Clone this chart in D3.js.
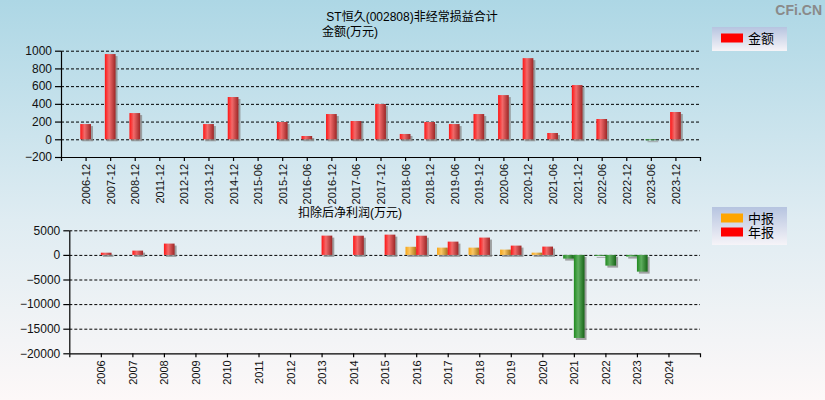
<!DOCTYPE html>
<html lang="zh">
<head>
<meta charset="utf-8">
<title>ST恒久(002808)非经常损益合计</title>
<script src="https://cdnjs.cloudflare.com/ajax/libs/d3/7.8.5/d3.min.js"></script>
<style>
  body { margin: 0; padding: 0; }
  svg { display: block; font-family: "Liberation Sans", "Noto Sans CJK SC", sans-serif; }
</style>
</head>
<body>
<div id="chart"></div>
<script>
// top chart: 非经常损益合计 (万元)
var periods = ["2006-12","2007-12","2008-12","2011-12","2012-12","2013-12","2014-12","2015-06",
               "2015-12","2016-06","2016-12","2017-06","2017-12","2018-06","2018-12","2019-06",
               "2019-12","2020-06","2020-12","2021-06","2021-12","2022-06","2022-12","2023-06","2023-12"];
var amounts = [172, 962, 296, 0, 0, 172, 477, 0,
               195, 37, 285, 206, 398, 60, 195, 172,
               285, 499, 916, 71, 612, 229, 0, -10, 308];
var topTicks = [-200, 0, 200, 400, 600, 800, 1000];

// bottom chart: 扣除后净利润 (万元)
var years = ["2006","2007","2008","2009","2010","2011","2012","2013","2014","2015",
             "2016","2017","2018","2019","2020","2021","2022","2023","2024"];
var midReport = [null, null, null, null, null, null, null, null, null, null,
                 1650, 1480, 1480, 1080, 460, -750, -180, -340, null];
var annualReport = [450, 870, 2300, null, null, null, null, 3920, 3900, 4120,
                    3900, 2700, 3520, 1890, 1690, -16880, -2180, -3400, null];
var bottomTicks = [-20000, -15000, -10000, -5000, 0, 5000];

var W = 825, H = 400;
var svg = d3.select("#chart").append("svg").attr("width", W).attr("height", H);
var defs = svg.append("defs");

var bg = defs.append("linearGradient").attr("id", "bg").attr("x1", 0).attr("y1", 0).attr("x2", 0).attr("y2", 1);
bg.append("stop").attr("offset", "0%").attr("stop-color", "#add7e5");
bg.append("stop").attr("offset", "55%").attr("stop-color", "#dfecf2");
bg.append("stop").attr("offset", "100%").attr("stop-color", "#fdf8f8");
svg.append("rect").attr("width", W).attr("height", H).attr("fill", "url(#bg)");

function barGrad(id, c0, c1, c2) {
  var g = defs.append("linearGradient").attr("id", id).attr("x1", 0).attr("y1", 0).attr("x2", 1).attr("y2", 0);
  g.append("stop").attr("offset", "0%").attr("stop-color", c0);
  g.append("stop").attr("offset", "40%").attr("stop-color", c1);
  g.append("stop").attr("offset", "100%").attr("stop-color", c2);
}
barGrad("red", "#ff1414", "#f26a6a", "#9c2626");
barGrad("orange", "#f7a516", "#fac766", "#a87418");
barGrad("green", "#1f8a1f", "#5fae5f", "#176417");

var legBg = defs.append("linearGradient").attr("id", "legbg").attr("x1", 0).attr("y1", 0).attr("x2", 0).attr("y2", 1);
legBg.append("stop").attr("offset", "0%").attr("stop-color", "#b6c4e0");
legBg.append("stop").attr("offset", "100%").attr("stop-color", "#f6f4f8");

// watermark + titles
svg.append("text").attr("x", 822).attr("y", 15).attr("text-anchor", "end")
  .attr("font-size", 14).attr("font-weight", "bold").attr("fill", "#8a8a8a").text("CFi.CN");
svg.append("text").attr("x", 412).attr("y", 21).attr("text-anchor", "middle")
  .attr("font-size", 12).attr("fill", "#000").text("ST恒久(002808)非经常损益合计");
svg.append("text").attr("x", 322).attr("y", 36)
  .attr("font-size", 12).attr("fill", "#000").text("金额(万元)");
svg.append("text").attr("x", 298).attr("y", 217)
  .attr("font-size", 12).attr("fill", "#000").text("扣除后净利润(万元)");

function drawPanel(opt) {
  var x = d3.scaleLinear().domain([-1, opt.labels.length]).range([opt.x0, opt.x1]);
  var y = d3.scaleLinear().domain(opt.yDomain).range([opt.yBottom, opt.yTop]);
  var g = svg.append("g");

  // dashed gridlines
  g.selectAll("line.grid").data(opt.ticks.filter(function(t){ return t > opt.yDomain[0]; }))
    .enter().append("line")
    .attr("x1", opt.x0).attr("x2", opt.x1)
    .attr("y1", function(d){ return y(d) + 0.5; }).attr("y2", function(d){ return y(d) + 0.5; })
    .attr("stroke", "#000").attr("stroke-dasharray", "3,2");

  // bars
  opt.series.forEach(function(s) {
    var data = s.values.map(function(v, i){ return {i: i, v: v}; })
      .filter(function(d){ return d.v !== null && d.v !== 0; });
    var bars = g.append("g");
    bars.selectAll("rect.shadow").data(data).enter().append("rect")
      .attr("x", function(d){ return x(d.i) + s.offset + 2; })
      .attr("y", function(d){ return Math.min(y(d.v), y(0)) + 2; })
      .attr("width", opt.barW)
      .attr("height", function(d){ return Math.abs(y(d.v) - y(0)); })
      .attr("fill", "#8c8c8c").attr("opacity", 0.8);
    bars.selectAll("rect.bar").data(data).enter().append("rect")
      .attr("x", function(d){ return x(d.i) + s.offset; })
      .attr("y", function(d){ return Math.min(y(d.v), y(0)); })
      .attr("width", opt.barW)
      .attr("height", function(d){ return Math.max(1, Math.abs(y(d.v) - y(0))); })
      .attr("fill", function(d){ return d.v < 0 ? "url(#green)" : "url(" + s.fill + ")"; });
  });

  // axes
  var yAxis = d3.axisLeft(y).tickValues(opt.ticks).tickFormat(d3.format("d"))
    .tickSize(6).tickSizeOuter(0).tickPadding(3);
  var ya = g.append("g").attr("transform", "translate(" + opt.x0 + ",0)").call(yAxis);
  ya.selectAll("text").attr("font-size", 12).attr("fill", "#111").attr("font-family", null);

  var xAxis = d3.axisBottom(x).tickValues(d3.range(opt.labels.length))
    .tickFormat(function(i){ return opt.labels[i]; }).tickSize(4).tickSizeOuter(4);
  var xa = g.append("g").attr("transform", "translate(0," + opt.yBottom + ")").call(xAxis);
  xa.selectAll("text")
    .attr("font-size", 11).attr("fill", "#111").attr("font-family", null)
    .attr("text-anchor", "end").attr("dy", null).attr("y", 0)
    .attr("transform", "translate(4,7) rotate(-90)")
    .attr("x", 0);
  g.selectAll(".domain, .tick line").attr("stroke", "#000").attr("stroke-width", 1.2);
}

drawPanel({
  labels: periods, x0: 61, x1: 700, yTop: 50.7, yBottom: 157, yDomain: [-200, 1000],
  ticks: topTicks, barW: 10.7,
  series: [{values: amounts, fill: "#red", offset: -5.3}]
});

drawPanel({
  labels: years, x0: 69.3, x1: 700, yTop: 230.3, yBottom: 353.3, yDomain: [-20000, 5000],
  ticks: bottomTicks, barW: 10.7,
  series: [{values: midReport, fill: "#orange", offset: -10.7},
           {values: annualReport, fill: "#red", offset: 0}]
});

// legends
function legend(y0, h, items) {
  var lg = svg.append("g");
  lg.append("rect").attr("x", 712).attr("y", y0).attr("width", 75).attr("height", h).attr("fill", "url(#legbg)");
  lg.selectAll("rect.sw").data(items).enter().append("rect")
    .attr("x", 721).attr("y", function(d, i){ return y0 + 6.5 + i * 14; })
    .attr("width", 22).attr("height", 9)
    .attr("fill", function(d){ return d.color; });
  lg.selectAll("text").data(items).enter().append("text")
    .attr("x", 748).attr("y", function(d, i){ return y0 + 16 + i * 14; })
    .attr("font-size", 13).attr("fill", "#000")
    .text(function(d){ return d.name; });
}
legend(27, 24, [{name: "金额", color: "#ff0000"}]);
legend(207, 38, [{name: "中报", color: "#ffa500"}, {name: "年报", color: "#ff0000"}]);
</script>
</body>
</html>
